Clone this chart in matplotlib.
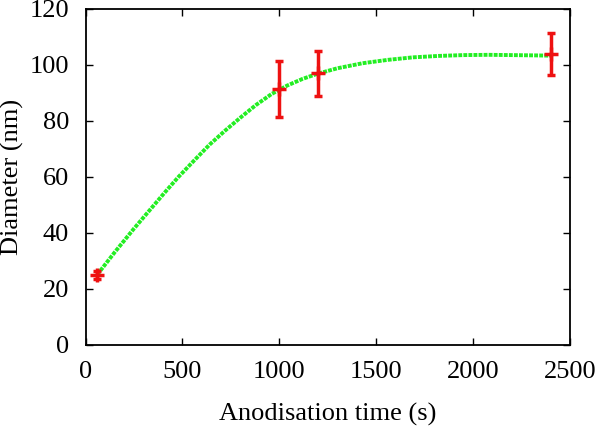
import numpy as np
import matplotlib.pyplot as plt

plt.rcParams['font.family'] = ['Liberation Serif', 'DejaVu Serif']

# measured diameters
t = [60, 1000, 1200, 2400]
d = [25, 91.5, 97, 104]
err = [1.5, 10, 8, 7.5]

# fitted curve
fit_t = [60, 150, 250, 330, 410, 480, 560, 640, 720, 800, 880, 960, 1040,
         1120, 1200, 1300, 1430, 1560, 1690, 1820, 1950, 2080, 2200, 2320,
         2400]
fit_d = [25.0, 33.0, 41.5, 48.0, 54.5, 60.0, 65.8, 71.5, 76.5, 81.2, 85.7,
         89.6, 92.6, 95.0, 96.9, 98.8, 100.6, 101.8, 102.7, 103.2, 103.5,
         103.6, 103.5, 103.4, 103.3]

fig = plt.figure(figsize=(6.07, 4.26), dpi=100)
ax = fig.add_axes([0.141, 0.191, 0.798, 0.788])

ax.plot(fit_t, fit_d, linestyle=(0, (1, 0.3)), color='#22ee22', lw=2.8,
        dash_capstyle='butt')
ax.errorbar(t, d, yerr=err, fmt='+', color='#ee1111', ms=10, mew=2.5,
            elinewidth=2.5, capsize=3, capthick=2.5, clip_on=False, zorder=3)

ax.set_xlim(0, 2500)
ax.set_ylim(0, 120)
ax.set_xticks([0, 500, 1000, 1500, 2000, 2500])
ax.set_yticks([0, 20, 40, 60, 80, 100, 120])
ax.tick_params(direction='in', top=True, right=True, length=5, width=1,
               labelsize=19, pad=12)
for s in ax.spines.values():
    s.set_linewidth(1.3)
ax.set_xlabel("Anodisation time (s)", fontsize=19, labelpad=14)
ax.set_ylabel("Diameter (nm)", fontsize=19, labelpad=4)

fig.savefig("out.png")
